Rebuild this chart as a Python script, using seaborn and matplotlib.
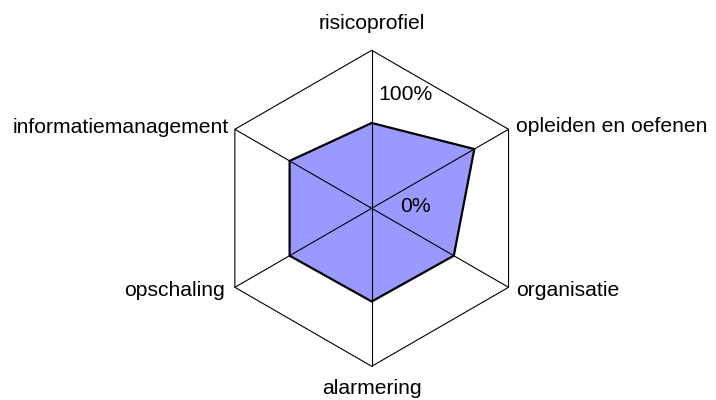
import numpy as np
import pandas as pd
import matplotlib
matplotlib.use("Agg")
import matplotlib.pyplot as plt
import seaborn as sns

# Data
categories = ["risicoprofiel", "opleiden en oefenen", "organisatie",
              "alarmering", "opschaling", "informatiemanagement"]
values = [0.54, 0.75, 0.60, 0.59, 0.60, 0.60]
tick_labels = ["0%", "100%"]

sns.set_theme(style="white")
plt.rcParams["font.family"] = ["Liberation Sans", "DejaVu Sans"]
plt.rcParams["text.color"] = "black"

W, H = 716, 400
fig = plt.figure(figsize=(W / 100, H / 100), dpi=100)
ax = fig.add_axes([0, 0, 1, 1])
cx, cy, R = 371.7, 208.3, 158.0
ax.set_xlim(-cx / R, (W - cx) / R)
ax.set_ylim(-(H - cy) / R, cy / R)
ax.axis("off")

n = len(categories)
theta = np.arange(n) * 2 * np.pi / n

# grid: outer hexagon and spokes
hx = np.sin(np.append(theta, theta[0]))
hy = np.cos(np.append(theta, theta[0]))
ax.plot(hx, hy, color="black", lw=0.8, zorder=1)
for t in theta:
    ax.plot([0, np.sin(t)], [0, np.cos(t)], color="black", lw=0.8, zorder=3)

# data polygon
v = np.array(values)
px = v * np.sin(theta)
py = v * np.cos(theta)
ax.fill(px, py, color="#9999FF", zorder=2, lw=0)
df = pd.DataFrame({"x": np.append(px, px[0]), "y": np.append(py, py[0]),
                   "s": "data"})
sns.lineplot(data=df, x="x", y="y", sort=False, estimator=None, color="black",
             lw=1.6, ax=ax, zorder=4, legend=False)
ax.set_xlabel("")
ax.set_ylabel("")
ax.axis("off")

fs = 15.2
# category labels
lab_pos = [
    (0.0, (cy - 29) / R, "center", "baseline"),
    ((516 - cx) / R, (cy - 132) / R, "left", "baseline"),
    ((516 - cx) / R, (cy - 296) / R, "left", "baseline"),
    (0.0, (cy - 394) / R, "center", "baseline"),
    ((225 - cx) / R, (cy - 296) / R, "right", "baseline"),
    ((229 - cx) / R, (cy - 133) / R, "right", "baseline"),
]
for name, (x, y, ha, va) in zip(categories, lab_pos):
    ax.text(x, y, name, ha=ha, va=va, fontsize=fs, color="black")

# radial tick labels
ax.text((400 - cx) / R, (cy - 207) / R, tick_labels[0], ha="left",
        va="center", fontsize=fs, color="black", zorder=5)
ax.text((378 - cx) / R, (cy - 94) / R, tick_labels[1], ha="left",
        va="center", fontsize=fs, color="black", zorder=5)

fig.savefig("out.png", dpi=100, facecolor="white")
